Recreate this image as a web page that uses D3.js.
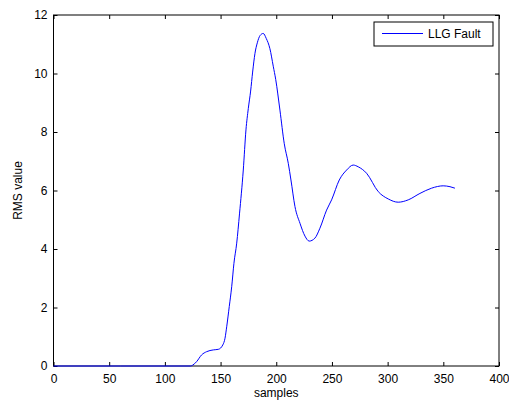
<!DOCTYPE html>
<html>
<head>
<meta charset="utf-8">
<script src="https://cdn.jsdelivr.net/npm/d3@7"></script>
<style>
  body { margin: 0; background: #fff; }
  svg { display: block; font-family: "Liberation Sans", Arial, sans-serif; }
</style>
</head>
<body>
<svg id="chart" width="509" height="402"></svg>
<script>
// data
const samples = [0, 60, 123, 125, 128.5, 133, 137.5, 143.5, 148, 152, 154, 155.5, 157.8, 160, 162, 164.5, 167, 170.4, 172.8, 174.9, 177, 178.8, 180.9, 183, 185.5, 188.3, 191, 194.3, 197.3, 199.5, 203.3, 207.2, 210.8, 213.2, 216.8, 221.3, 225.8, 229.6, 234.7, 239.2, 245.2, 249.7, 256.6, 263.2, 269.1, 273.6, 281.1, 291.6, 300.6, 309.5, 318.5, 329, 339.5, 349.9, 356, 360.4];
const rms = [0, 0, 0, 0.03, 0.15, 0.38, 0.49, 0.55, 0.57, 0.72, 0.95, 1.34, 2.03, 2.71, 3.51, 4.2, 5.2, 6.7, 8.07, 8.8, 9.4, 10.05, 10.69, 11.05, 11.3, 11.37, 11.2, 10.85, 10.25, 9.8, 8.75, 7.6, 6.93, 6.36, 5.45, 4.88, 4.44, 4.27, 4.37, 4.71, 5.33, 5.68, 6.36, 6.7, 6.87, 6.81, 6.59, 5.96, 5.71, 5.6, 5.68, 5.9, 6.08, 6.16, 6.13, 6.08];
const xTicks = [0, 50, 100, 150, 200, 250, 300, 350, 400];
const yTicks = [0, 2, 4, 6, 8, 10, 12];
const seriesName = "LLG Fault";

const svg = d3.select("#chart");
const plotL = 53.5, plotR = 499, plotT = 15, plotB = 366;

const x = d3.scaleLinear().domain([0, 400]).range([plotL, plotR]);
const y = d3.scaleLinear().domain([0, 12]).range([plotB, plotT]);

// axes box with inward ticks on all four sides
const axisStyle = (g) => {
  g.select(".domain").remove();
  g.selectAll("line").attr("stroke", "#000");
  g.selectAll("text").attr("fill", "#000").style("font-size", "12px");
};

svg.append("g")
  .attr("transform", `translate(0,${plotB})`)
  .call(d3.axisBottom(x).tickValues(xTicks).tickSize(-4).tickPadding(8))
  .call(axisStyle);
svg.append("g")
  .attr("transform", `translate(0,${plotT})`)
  .call(d3.axisTop(x).tickValues(xTicks).tickSize(-4).tickFormat(""))
  .call(axisStyle);
svg.append("g")
  .attr("transform", `translate(${plotL},0)`)
  .call(d3.axisLeft(y).tickValues(yTicks).tickSize(-4).tickPadding(6))
  .call(axisStyle);
svg.append("g")
  .attr("transform", `translate(${plotR},0)`)
  .call(d3.axisRight(y).tickValues(yTicks).tickSize(-4).tickFormat(""))
  .call(axisStyle);

svg.append("rect")
  .attr("x", plotL).attr("y", plotT)
  .attr("width", plotR - plotL).attr("height", plotB - plotT)
  .attr("fill", "none").attr("stroke", "#000").attr("stroke-width", 1);

// the series
const pts = samples.map((s, i) => [s, rms[i]]);
svg.append("path")
  .datum(pts)
  .attr("fill", "none")
  .attr("stroke", "#0000ff")
  .attr("stroke-width", 1)
  .attr("d", d3.line().x(d => x(d[0])).y(d => y(d[1])).curve(d3.curveMonotoneX));

// labels
svg.append("text")
  .attr("x", (plotL + plotR) / 2).attr("y", 397)
  .attr("text-anchor", "middle")
  .style("font-size", "12px")
  .text("samples");
svg.append("text")
  .attr("transform", `translate(22,${(plotT + plotB) / 2}) rotate(-90)`)
  .attr("text-anchor", "middle")
  .style("font-size", "12px")
  .text("RMS value");

// legend
const lg = svg.append("g");
lg.append("rect")
  .attr("x", 374).attr("y", 22).attr("width", 119).attr("height", 24)
  .attr("fill", "#fff").attr("stroke", "#000");
lg.append("line")
  .attr("x1", 382).attr("x2", 423).attr("y1", 33.5).attr("y2", 33.5)
  .attr("stroke", "#0000ff");
lg.append("text")
  .attr("x", 428).attr("y", 38)
  .style("font-size", "12px")
  .text(seriesName);
</script>
</body>
</html>
